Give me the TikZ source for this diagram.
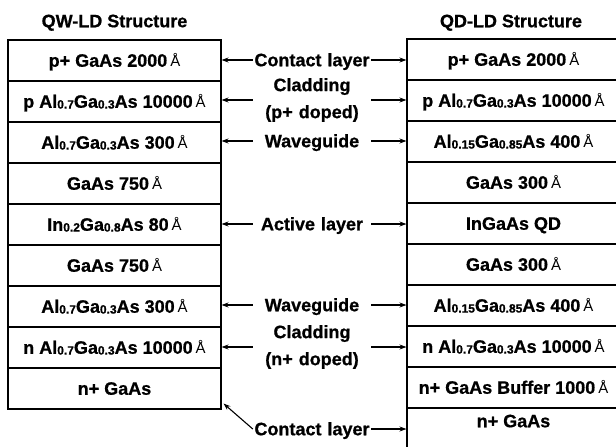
\documentclass[tikz,border=0pt]{standalone}
\usepackage{fontspec}
\setmainfont{Liberation Sans}[BoldFeatures={FakeBold=0.8}]
\usetikzlibrary{arrows.meta}
\newcommand{\ang}{\,{\mdseries\fontsize{15}{15}\selectfont Å}}
\newcommand{\idx}[1]{\raisebox{-0.8pt}{\fontsize{12}{12}\selectfont #1}}
\tikzset{
	layer/.style={draw, line width=1.1pt, minimum width=213pt, minimum height=41pt, inner sep=0pt, text height=12.5pt, text depth=0pt},
	lbl/.style={text width=118pt, align=center, inner sep=0pt, text height=12.5pt, text depth=0pt},
	lbltwo/.style={text width=118pt, align=center, inner sep=0pt},
	arr/.style={-{Stealth[length=7pt, width=5pt]}, line width=1.1pt},
}
\begin{document}
\begin{tikzpicture}[x=1pt, y=-1pt, font=\bfseries\fontsize{18}{27}\selectfont]
				\useasboundingbox (0,0) rectangle (616,447);
				\def\xL{114.5}
				\def\xR{513.5}
				\def\xM{312}
				% titles
				\node[text height=12.5pt, text depth=0pt] (tL) at (\xL,21) {QW-LD Structure};
				\node[text height=12.5pt, text depth=0pt] (tR) at (511,21) {QD-LD Structure};
				% QW-LD stack
				\node[layer] (L1) at (\xL,60.5) {p+ GaAs 2000\ang};
				\node[layer] (L2) at (\xL,101.5) {p Al\idx{0.7}Ga\idx{0.3}As 10000\ang};
				\node[layer] (L3) at (\xL,142.5) {Al\idx{0.7}Ga\idx{0.3}As 300\ang};
				\node[layer] (L4) at (\xL,183.5) {GaAs 750\ang};
				\node[layer] (L5) at (\xL,224.5) {In\idx{0.2}Ga\idx{0.8}As 80\ang};
				\node[layer] (L6) at (\xL,265.5) {GaAs 750\ang};
				\node[layer] (L7) at (\xL,306.5) {Al\idx{0.7}Ga\idx{0.3}As 300\ang};
				\node[layer] (L8) at (\xL,347.5) {n Al\idx{0.7}Ga\idx{0.3}As 10000\ang};
				\node[layer] (L9) at (\xL,388.5) {n+ GaAs};
				% QD-LD stack
				\node[layer] (R1) at (\xR,59.5) {p+ GaAs 2000\ang};
				\node[layer] (R2) at (\xR,100.5) {p Al\idx{0.7}Ga\idx{0.3}As 10000\ang};
				\node[layer] (R3) at (\xR,141.5) {Al\idx{0.15}Ga\idx{0.85}As 400\ang};
				\node[layer] (R4) at (\xR,182.5) {GaAs 300\ang};
				\node[layer] (R5) at (\xR,223.5) {InGaAs QD};
				\node[layer] (R6) at (\xR,264.5) {GaAs 300\ang};
				\node[layer] (R7) at (\xR,305.5) {Al\idx{0.15}Ga\idx{0.85}As 400\ang};
				\node[layer] (R8) at (\xR,346.5) {n Al\idx{0.7}Ga\idx{0.3}As 10000\ang};
				\node[layer] (R9) at (\xR,387.5) {n+ GaAs Buffer 1000\ang};
				\node[layer, anchor=north, minimum height=80pt] (R10) at (\xR,408) {};
				\node[text height=12.5pt, text depth=0pt] (R10t) at (\xR,421) {n+ GaAs};
				% labels in the middle
				\node[lbl] (cont1) at (\xM,60) {Contact layer};
				\node[lbltwo] (clad1) at (\xM,100) {Cladding\\(p+ doped)};
				\node[lbl] (wave1) at (\xM,141) {Waveguide};
				\node[lbl] (act) at (\xM,224) {Active layer};
				\node[lbl] (wave2) at (\xM,305) {Waveguide};
				\node[lbltwo] (clad2) at (\xM,347) {Cladding\\(n+ doped)};
				\node[lbl] (cont2) at (\xM,429) {Contact layer};
				% arrows
				\draw[arr] (cont1.west) -- (cont1.west -| L1.east);
				\draw[arr] (cont1.east) -- (cont1.east -| R1.west);
				\draw[arr] (clad1.west) -- (clad1.west -| L2.east);
				\draw[arr] (clad1.east) -- (clad1.east -| R2.west);
				\draw[arr] (wave1.west) -- (wave1.west -| L3.east);
				\draw[arr] (wave1.east) -- (wave1.east -| R3.west);
				\draw[arr] (act.west) -- (act.west -| L5.east);
				\draw[arr] (act.east) -- (act.east -| R5.west);
				\draw[arr] (wave2.west) -- (wave2.west -| L7.east);
				\draw[arr] (wave2.east) -- (wave2.east -| R7.west);
				\draw[arr] (clad2.west) -- (clad2.west -| L8.east);
				\draw[arr] (clad2.east) -- (clad2.east -| R8.west);
				\draw[arr] (cont2.west) -- ([xshift=2pt, yshift=6pt]L9.south east);
				\draw[arr] (cont2.east) -- (cont2.east -| R10.west);
\end{tikzpicture}
\end{document}
